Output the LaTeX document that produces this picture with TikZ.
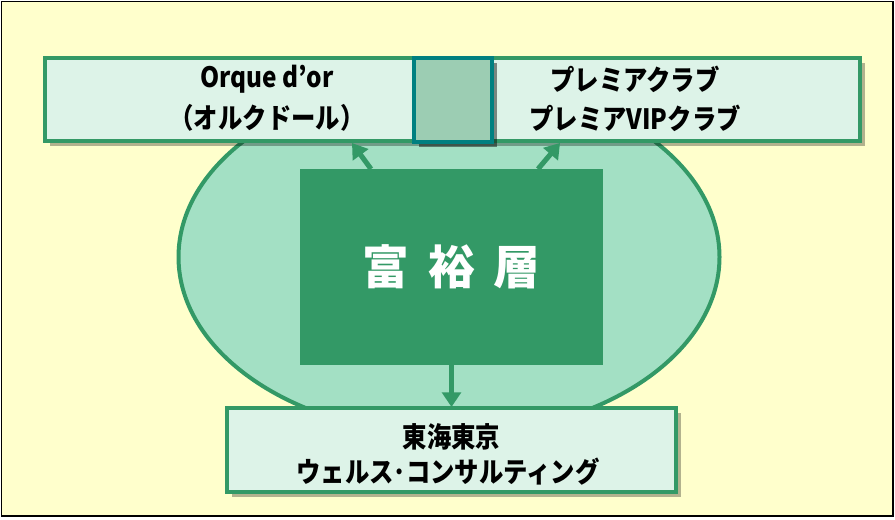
\documentclass[tikz,border=0pt]{standalone}
\usepackage{fontspec}
\usepackage{graphicx}
\setmainfont{Noto Sans CJK JP}
\usetikzlibrary{shadows,arrows.meta,shapes.geometric}
\definecolor{bgyellow}{HTML}{FFFFCC}
\definecolor{gborder}{HTML}{339966}
\definecolor{boxfill}{HTML}{DDF3E8}
\definecolor{ellfill}{HTML}{A3E0C4}
\definecolor{teal2}{HTML}{008080}
\definecolor{sqfill}{HTML}{9CCDB3}
\newcommand{\cond}[1]{\scalebox{0.87}[1]{#1}}
\tikzset{
  lbox/.style={draw=gborder, line width=3pt, fill=boxfill,
    drop shadow={shadow xshift=4pt, shadow yshift=-4pt, fill=black, opacity=0.3}},
  lab/.style={font=\bfseries\fontsize{21}{24}\selectfont, text=black, inner sep=0pt},
  garrow/.style={draw=gborder, line width=3.8pt, -{Triangle[length=11pt,width=14pt]}}
}
\begin{document}
\begin{tikzpicture}[x=0.75pt,y=-0.75pt]
\useasboundingbox (0,0) rectangle (895,519);
\draw[fill=bgyellow, draw=black, line width=1.2pt] (1.5,1.5) rectangle (893,516);
% ellipse
\node[draw=gborder, line width=3pt, fill=ellfill, ellipse, minimum width=541*0.75pt, minimum height=356*0.75pt, inner sep=0pt] (ell) at (449,257) {};
% center rect
\node[fill=gborder, minimum width=303*0.75pt, minimum height=196*0.75pt, inner sep=0pt, text=white,
  font=\bfseries\fontsize{35}{40}\selectfont] (core) at (451.5,267) {富\hspace{0.4em}裕\hspace{0.4em}層};
% top box
\draw[lbox] (45,58) rectangle (860,141);
\coordinate (topL) at (352,143);
\coordinate (topR) at (560,143);
\node[draw=teal2, line width=3pt, fill=sqfill, minimum width=78*0.75pt, minimum height=84*0.75pt, inner sep=0pt,
  drop shadow={shadow xshift=4pt, shadow yshift=-4pt, fill=black, opacity=0.45}] (sq) at (452.5,100) {};
\node[lab] (t1) at (267,79) {\cond{Orque d'or}};
\node[lab] (t2) at (267,118) {\cond{（オルクドール）}};
\node[lab] (t3) at (635,79) {\cond{プレミアクラブ}};
\node[lab] (t4) at (635,118) {\cond{プレミアVIPクラブ}};
% bottom box
\draw[lbox] (227,408) rectangle (676,492);
\coordinate (botT) at (451.5,407);
\node[lab] (b1) at (451.5,437) {\cond{東海東京}};
\node[lab] (b2) at (448,472) {\cond{ウェルス･コンサルティング}};
% arrows
\draw[garrow] (371,169) -- (topL);
\draw[garrow] (538,169) -- (topR);
\draw[garrow] (core.south) -- (botT);
\end{tikzpicture}
\end{document}
